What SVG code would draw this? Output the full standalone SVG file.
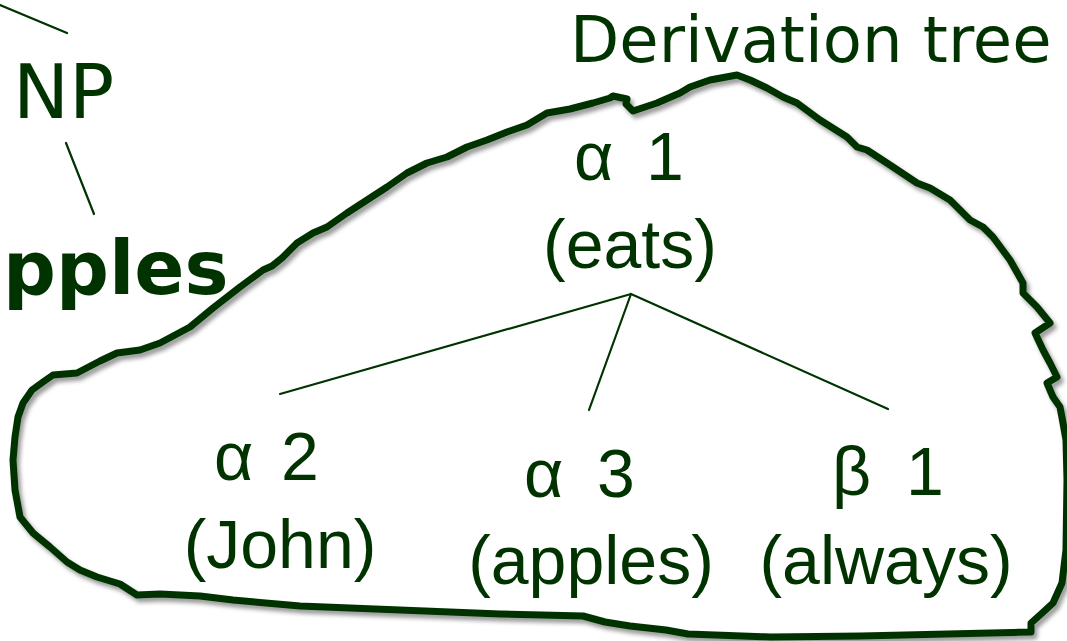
<svg xmlns="http://www.w3.org/2000/svg" width="1067" height="641" viewBox="0 0 1067 641">
<defs>
<filter id="sh" x="-5%" y="-5%" width="115%" height="115%">
<feDropShadow dx="3" dy="4" stdDeviation="2.2" flood-color="#000" flood-opacity="0.4"/>
</filter>
<style>
.t{fill:#003300;font-family:"DejaVu Sans",Verdana,sans-serif}
.lab{fill:#003300;font-family:"Liberation Sans","Noto Sans CJK JP",sans-serif;font-size:68px}
.ln{stroke:#003300;stroke-width:2.2;fill:none;stroke-linecap:round}
.blob{fill:none;stroke:#003300;stroke-width:7;stroke-linejoin:round;filter:url(#sh)}
</style>
</defs>
<rect width="1067" height="641" fill="#fff"/>
<g id="outline">
<path class="blob" d="M140,350 L160,343 L190,327 L213,308 L240,287 L263,270 L272,266 L282,258 L297,243 L313,233 L327,227 L347,213 L367,200 L387,187 L407,173 L427,163 L447,157 L467,147 L487,140 L507,132 L527,125 L547,113 L570,109 L593,103 L610,98 L613,96 L627,99 L626,104 L633,111 L657,103 L680,93 L690,87 L710,80 L737,75 L750,80 L767,88 L783,97 L797,103 L820,120 L847,137 L857,147 L867,150 L893,167 L917,183 L930,188 L950,200 L970,220 L983,227 L993,237 L1010,260 L1023,283 L1023,293 L1037,307 L1050,323 L1035,333 L1043,350 L1050,363 L1057,377 L1047,383 L1053,397 L1060,407 L1063,423 L1066,440 L1067,480 L1066,550 L1062,583 L1053,603 L1040,615 L1031,623 L1031,632 L861,636 L771,637 L688,634 L666,630 L630,626 L605,622 L583,616 L500,614 L300,606 L233,600 L200,596 L160,594 L137,595 L120,584 L97,577 L80,570 L67,562 L50,547 L33,533 L20,517 L15,490 L13,460 L15,437 L18,417 L23,403 L32,390 L43,382 L53,375 L77,373 L100,361 L117,353 Z"/>
</g>
<g id="connectors">
<line class="ln" x1="0" y1="5" x2="67" y2="33"/>
<line class="ln" x1="66" y1="143" x2="94" y2="214"/>
<line class="ln" x1="631" y1="294" x2="280" y2="394"/>
<line class="ln" x1="631" y1="294" x2="589" y2="410"/>
<line class="ln" x1="631" y1="294" x2="888" y2="409"/>
</g>
<g id="title"><text class="t" x="570" y="62" font-size="64">Derivation tree</text></g>
<g id="np"><text class="t" x="13" y="118" font-size="75">NP</text></g>
<g id="pples"><text class="t" x="3" y="294" font-size="74" font-weight="bold">pples</text></g>
<g id="a1"><text class="lab" y="180"><tspan x="574">α</tspan> <tspan x="646">1</tspan></text><text class="lab" x="630" y="268" text-anchor="middle">(eats)</text></g>
<g id="a2"><text class="lab" y="480"><tspan x="214">α</tspan> <tspan x="281">2</tspan></text><text class="lab" x="280" y="568" text-anchor="middle">(John)</text></g>
<g id="a3"><text class="lab" y="497"><tspan x="524">α</tspan> <tspan x="597">3</tspan></text><text class="lab" x="591" y="584" text-anchor="middle">(apples)</text></g>
<g id="b1"><text class="lab" y="495"><tspan x="832">β</tspan> <tspan x="906">1</tspan></text><text class="lab" x="886" y="584" text-anchor="middle">(always)</text></g>
</svg>
